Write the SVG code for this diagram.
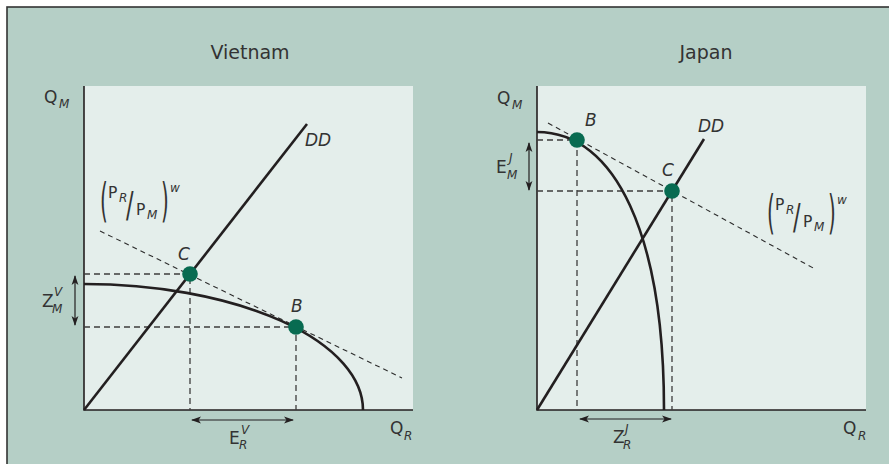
<svg xmlns="http://www.w3.org/2000/svg" width="889" height="464" viewBox="0 0 889 464">
<defs>
<style>
text{font-family:"DejaVu Sans","Liberation Sans",sans-serif;fill:#333}
.t{font-size:19px}
.l{font-size:17px}
.i{font-style:italic}
.s{font-size:12px;font-style:italic}
.ax{stroke:#231f20;stroke-width:1.6;fill:none}
.thick{stroke:#231f20;stroke-width:2.6;fill:none}
.proj{stroke:#3c3c3c;stroke-width:1.3;stroke-dasharray:6 4;fill:none}
.tan{stroke:#2c2c2c;stroke-width:1.1;stroke-dasharray:5 4;fill:none}
.arr{stroke:#231f20;stroke-width:1.2;fill:none;marker-start:url(#ah);marker-end:url(#ah)}
.dot{fill:#086b51}
.plot{fill:#e4eeeb}
</style>
<marker id="ah" viewBox="0 0 10 8" refX="9" refY="4" markerWidth="10" markerHeight="8" markerUnits="userSpaceOnUse" orient="auto-start-reverse">
<path d="M0,0.6 L10,4 L0,7.4 L2.5,4 Z" fill="#231f20"/>
</marker>
<g id="ratio">
<text transform="translate(0,35) scale(1,2.3)" style="font-size:20px">(</text>
<text x="8" y="17" style="font-size:15.5px">P</text>
<text x="19" y="21" class="s">R</text>
<text transform="translate(26,35.5) scale(1.4,2.2)" style="font-size:16px">/</text>
<text x="36" y="34" style="font-size:15.5px">P</text>
<text x="47" y="38" class="s">M</text>
<text transform="translate(61,35) scale(1,2.3)" style="font-size:20px">)</text>
<text x="70" y="11" class="s">w</text>
</g>
</defs>
<rect width="889" height="464" fill="#ffffff"/>
<rect id="panel" x="7" y="7" width="900" height="480" fill="#b5cfc6" stroke="#333" stroke-width="1.6"/>

<g id="vietnam">
<text class="t" x="250" y="59" text-anchor="middle">Vietnam</text>
<rect class="plot" x="84" y="86" width="329" height="324"/>
<path class="ax" d="M84,86 V410 H413"/>
<g id="vietnam-connectors">
<path class="proj" d="M84,274 H190 V410"/>
<path class="proj" d="M84,327 H296 V410"/>
<path class="tan" d="M100,231 L402,378"/>
<path class="thick" d="M84,410 L307,124"/>
<path class="thick" d="M84,284 A279,126 0 0 1 363,410"/>
<path class="arr" d="M75,276 V325"/>
<path class="arr" d="M192,420 H293"/>
</g>
<g id="vietnam-C"><circle class="dot" cx="190" cy="274" r="7.8"/><text class="l i" x="178" y="260">C</text></g>
<g id="vietnam-B"><circle class="dot" cx="296" cy="327" r="7.8"/><text class="l i" x="291" y="312">B</text></g>
<text class="l i" x="305" y="146">DD</text>
<text class="l" x="44" y="103">Q</text><text class="s" x="59" y="108">M</text>
<text class="l" x="390" y="434">Q</text><text class="s" x="404" y="440">R</text>
<text class="l" x="42" y="307">Z</text><text class="s" x="54" y="296">V</text><text class="s" x="52" y="313">M</text>
<text class="l" x="229" y="444">E</text><text class="s" x="241" y="434">V</text><text class="s" x="239" y="449">R</text>
<use href="#ratio" x="100" y="181"/>
</g>

<g id="japan">
<text class="t" x="706" y="59" text-anchor="middle">Japan</text>
<rect class="plot" x="537" y="86" width="329" height="324"/>
<path class="ax" d="M537,86 V410 H866"/>
<g id="japan-connectors">
<path class="proj" d="M537,140 H577 V410"/>
<path class="proj" d="M537,191 H672 V410"/>
<path class="tan" d="M548,123 L815,269"/>
<path class="thick" d="M537,410 L704,139"/>
<path class="thick" d="M537,132 C616,132 664,236 664,410"/>
<path class="arr" d="M529,143 V190"/>
<path class="arr" d="M580,419 H671"/>
</g>
<g id="japan-B"><circle class="dot" cx="577" cy="140" r="7.8"/><text class="l i" x="585" y="126">B</text></g>
<g id="japan-C"><circle class="dot" cx="672" cy="191" r="7.8"/><text class="l i" x="662" y="176">C</text></g>
<text class="l i" x="698" y="132">DD</text>
<text class="l" x="497" y="104">Q</text><text class="s" x="512" y="109">M</text>
<text class="l" x="843" y="434">Q</text><text class="s" x="858" y="440">R</text>
<text class="l" x="496" y="173">E</text><text class="s" x="509" y="162">J</text><text class="s" x="507" y="179">M</text>
<text class="l" x="613" y="443">Z</text><text class="s" x="625" y="433">J</text><text class="s" x="623" y="449">R</text>
<use href="#ratio" x="767" y="193"/>
</g>
</svg>
